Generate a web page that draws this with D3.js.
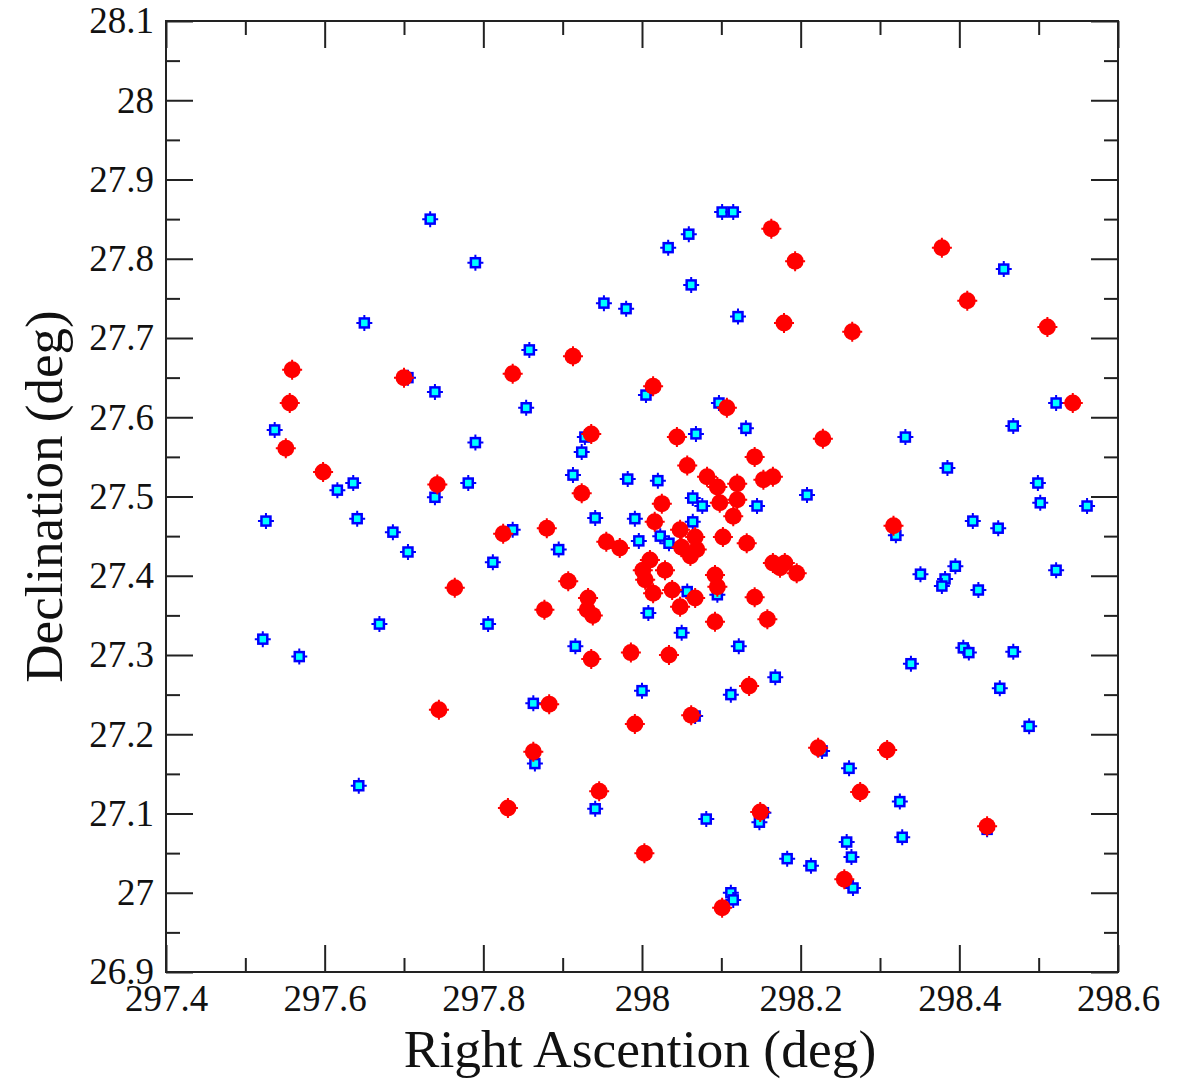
<!DOCTYPE html>
<html>
<head>
<meta charset="utf-8">
<script src="https://cdn.jsdelivr.net/npm/d3@7"></script>
<style>
  html, body { margin: 0; padding: 0; background: #fff; }
  svg { display: block; }
  text { font-family: "Liberation Serif", "Times New Roman", serif; fill: #111; }
</style>
</head>
<body>
<svg id="chart" width="1185" height="1081"></svg>
<script>
// Field sources: right ascension / declination in degrees
const blueRA = [
  297.733, 297.790, 297.650, 297.858, 297.705, 297.739, 297.854, 297.537, 297.790, 297.781,
  297.739, 297.636, 297.616, 297.526, 297.641, 297.686, 297.705, 297.812, 297.837, 297.669,
  297.806, 297.522, 297.568, 297.643, 297.863, 297.865, 297.941, 297.916, 298.050, 298.122,
  298.168, 298.112, 298.000, 298.067, 298.081, 298.153, 298.148, 298.183, 298.213, 298.112,
  298.115, 298.008, 298.332, 298.468, 298.385, 298.499, 298.502, 298.561, 298.417, 298.449,
  298.320, 298.395, 298.351, 298.382, 298.378, 298.424, 298.522, 298.405, 298.412, 298.468,
  298.339, 298.451, 298.488, 298.227, 298.261, 298.325, 298.435, 298.328, 298.258, 298.264,
  298.266, 298.456, 298.522, 298.101, 298.115, 298.059, 298.033, 298.062, 297.952, 297.980,
  298.121, 298.005, 298.097, 298.131, 298.068, 297.982, 298.020, 298.064, 298.076, 298.145,
  298.208, 297.991, 298.064, 298.023, 298.034, 297.996, 298.057, 298.095, 297.928, 297.924,
  297.913, 297.941, 297.895
];
const blueDec = [
  27.850, 27.795, 27.719, 27.685, 27.650, 27.632, 27.612, 27.584, 27.568, 27.517,
  27.499, 27.517, 27.508, 27.469, 27.472, 27.455, 27.430, 27.417, 27.458, 27.339,
  27.339, 27.320, 27.298, 27.135, 27.239, 27.163, 27.106, 27.311, 27.328, 27.311,
  27.272, 27.250, 27.255, 27.223, 27.093, 27.101, 27.089, 27.043, 27.034, 27.000,
  26.991, 27.353, 27.575, 27.589, 27.536, 27.517, 27.492, 27.488, 27.469, 27.460,
  27.451, 27.412, 27.402, 27.396, 27.387, 27.382, 27.407, 27.309, 27.303, 27.304,
  27.289, 27.258, 27.210, 27.179, 27.157, 27.115, 27.080, 27.070, 27.064, 27.045,
  27.006, 27.787, 27.618, 27.859, 27.859, 27.831, 27.814, 27.767, 27.744, 27.737,
  27.727, 27.628, 27.618, 27.586, 27.579, 27.522, 27.520, 27.498, 27.488, 27.488,
  27.502, 27.472, 27.468, 27.450, 27.441, 27.444, 27.380, 27.376, 27.575, 27.556,
  27.527, 27.473, 27.433
];

const redRA = [
  297.559, 297.556, 297.551, 297.598, 297.700, 297.837, 297.742, 297.825, 297.764, 297.744,
  297.831, 297.863, 297.877, 297.880, 297.938, 297.931, 297.932, 297.936, 297.986, 298.034,
  298.092, 298.158, 298.135, 297.883, 297.991, 298.062, 297.946, 298.003, 298.101, 298.222,
  298.149, 298.255, 298.309, 298.275, 298.435, 298.317, 298.228, 298.378, 298.410, 298.511,
  298.265, 298.543, 298.163, 298.193, 298.179, 297.913, 298.014, 298.107, 298.044, 298.142,
  298.057, 298.082, 298.095, 298.120, 298.153, 298.165, 298.025, 298.098, 298.120, 298.115,
  298.016, 298.048, 298.067, 298.050, 298.069, 298.061, 298.102, 298.132, 297.955, 297.972,
  298.165, 298.180, 298.195, 298.174, 298.010, 298.029, 298.004, 298.014, 298.038, 298.067,
  298.048, 298.092, 298.095, 298.142, 297.936, 297.924, 297.907, 298.001
];
const redDec = [
  27.660, 27.618, 27.561, 27.531, 27.650, 27.655, 27.515, 27.453, 27.385, 27.231,
  27.107, 27.178, 27.357, 27.460, 27.350, 27.357, 27.372, 27.295, 27.303, 27.300,
  27.342, 27.345, 27.261, 27.238, 27.213, 27.224, 27.128, 27.050, 26.981, 27.183,
  27.102, 27.017, 27.180, 27.127, 27.084, 27.463, 27.573, 27.814, 27.747, 27.714,
  27.708, 27.618, 27.838, 27.797, 27.719, 27.677, 27.639, 27.612, 27.575, 27.550,
  27.539, 27.525, 27.512, 27.516, 27.521, 27.525, 27.491, 27.492, 27.496, 27.475,
  27.468, 27.458, 27.449, 27.436, 27.433, 27.425, 27.449, 27.441, 27.443, 27.435,
  27.416, 27.416, 27.403, 27.410, 27.420, 27.407, 27.395, 27.378, 27.382, 27.372,
  27.361, 27.401, 27.386, 27.373, 27.579, 27.504, 27.393, 27.407
];

// Axis ticks and labels
const xMajorTicks = [297.4, 297.6, 297.8, 298.0, 298.2, 298.4, 298.6];
const xTickLabels = ["297.4", "297.6", "297.8", "298", "298.2", "298.4", "298.6"];
const xMinorTicks = [297.5, 297.7, 297.9, 298.1, 298.3, 298.5];
const yMajorTicks = [26.9, 27.0, 27.1, 27.2, 27.3, 27.4, 27.5, 27.6, 27.7, 27.8, 27.9, 28.0, 28.1];
const yTickLabels = ["26.9", "27", "27.1", "27.2", "27.3", "27.4", "27.5", "27.6", "27.7", "27.8", "27.9", "28", "28.1"];
const yMinorTicks = [26.95, 27.05, 27.15, 27.25, 27.35, 27.45, 27.55, 27.65, 27.75, 27.85, 27.95, 28.05];

const xTitle = "Right Ascention (deg)";
const yTitle = "Declination (deg)";

const svg = d3.select("#chart");
const plot = { left: 166, top: 21, width: 952, height: 951 };

const x = d3.scaleLinear().domain([297.4, 298.6]).range([plot.left, plot.left + plot.width]);
const y = d3.scaleLinear().domain([26.9, 28.1]).range([plot.top + plot.height, plot.top]);

const axisColor = "#222";
const majorLen = 27, minorLen = 14;

function styleAxis(g) {
  g.select(".domain").remove();
  g.selectAll(".tick line").attr("stroke", axisColor).attr("stroke-width", 2);
  g.selectAll(".tick text")
    .attr("font-family", '"Liberation Serif", "Times New Roman", serif')
    .attr("font-size", 37)
    .attr("fill", "#111");
}

// bottom axis (labelled)
svg.append("g")
  .attr("transform", `translate(0,${plot.top + plot.height})`)
  .call(d3.axisBottom(x).tickValues(xMajorTicks).tickSizeInner(-majorLen).tickSizeOuter(0)
    .tickPadding(13).tickFormat((d, i) => xTickLabels[i]))
  .call(styleAxis);
svg.append("g")
  .attr("transform", `translate(0,${plot.top + plot.height})`)
  .call(d3.axisBottom(x).tickValues(xMinorTicks).tickSizeInner(-minorLen).tickSizeOuter(0).tickFormat(""))
  .call(styleAxis);

// top axis (mirrored ticks)
svg.append("g")
  .attr("transform", `translate(0,${plot.top})`)
  .call(d3.axisTop(x).tickValues(xMajorTicks).tickSizeInner(-majorLen).tickSizeOuter(0).tickFormat(""))
  .call(styleAxis);
svg.append("g")
  .attr("transform", `translate(0,${plot.top})`)
  .call(d3.axisTop(x).tickValues(xMinorTicks).tickSizeInner(-minorLen).tickSizeOuter(0).tickFormat(""))
  .call(styleAxis);

// left axis (labelled)
svg.append("g")
  .attr("transform", `translate(${plot.left},0)`)
  .call(d3.axisLeft(y).tickValues(yMajorTicks).tickSizeInner(-majorLen).tickSizeOuter(0)
    .tickPadding(12).tickFormat((d, i) => yTickLabels[i]))
  .call(styleAxis);
svg.append("g")
  .attr("transform", `translate(${plot.left},0)`)
  .call(d3.axisLeft(y).tickValues(yMinorTicks).tickSizeInner(-minorLen).tickSizeOuter(0).tickFormat(""))
  .call(styleAxis);

// right axis (mirrored ticks)
svg.append("g")
  .attr("transform", `translate(${plot.left + plot.width},0)`)
  .call(d3.axisRight(y).tickValues(yMajorTicks).tickSizeInner(-majorLen).tickSizeOuter(0).tickFormat(""))
  .call(styleAxis);
svg.append("g")
  .attr("transform", `translate(${plot.left + plot.width},0)`)
  .call(d3.axisRight(y).tickValues(yMinorTicks).tickSizeInner(-minorLen).tickSizeOuter(0).tickFormat(""))
  .call(styleAxis);

// frame
svg.append("rect")
  .attr("x", plot.left).attr("y", plot.top)
  .attr("width", plot.width).attr("height", plot.height)
  .attr("fill", "none").attr("stroke", axisColor).attr("stroke-width", 2);

// axis titles
svg.append("text")
  .attr("x", plot.left + plot.width / 2 - 2)
  .attr("y", 1067)
  .attr("text-anchor", "middle")
  .attr("font-size", 53.5)
  .text(xTitle);

svg.append("text")
  .attr("transform", `translate(62,${plot.top + plot.height / 2}) rotate(-90)`)
  .attr("text-anchor", "middle")
  .attr("font-size", 53)
  .text(yTitle);

// markers
const blueData = blueRA.map((ra, i) => ({ ra, dec: blueDec[i] }));
const redData = redRA.map((ra, i) => ({ ra, dec: redDec[i] }));

const crossPath = (r) => `M${-r},0H${r}M0,${-r}V${r}`;

const blueG = svg.append("g").selectAll("g")
  .data(blueData).join("g")
  .attr("transform", d => `translate(${x(d.ra)},${y(d.dec)})`);
blueG.append("path").attr("d", crossPath(8)).attr("stroke", "#0000ff").attr("stroke-width", 2);
blueG.append("rect")
  .attr("x", -4.5).attr("y", -4.5).attr("width", 9).attr("height", 9)
  .attr("fill", "#00ffff").attr("stroke", "#0000ff").attr("stroke-width", 2.5);

const redG = svg.append("g").selectAll("g")
  .data(redData).join("g")
  .attr("transform", d => `translate(${x(d.ra)},${y(d.dec)})`);
redG.append("path").attr("d", crossPath(10)).attr("stroke", "#ff0000").attr("stroke-width", 2);
redG.append("circle").attr("r", 8.5).attr("fill", "#ff0000");
</script>
</body>
</html>
